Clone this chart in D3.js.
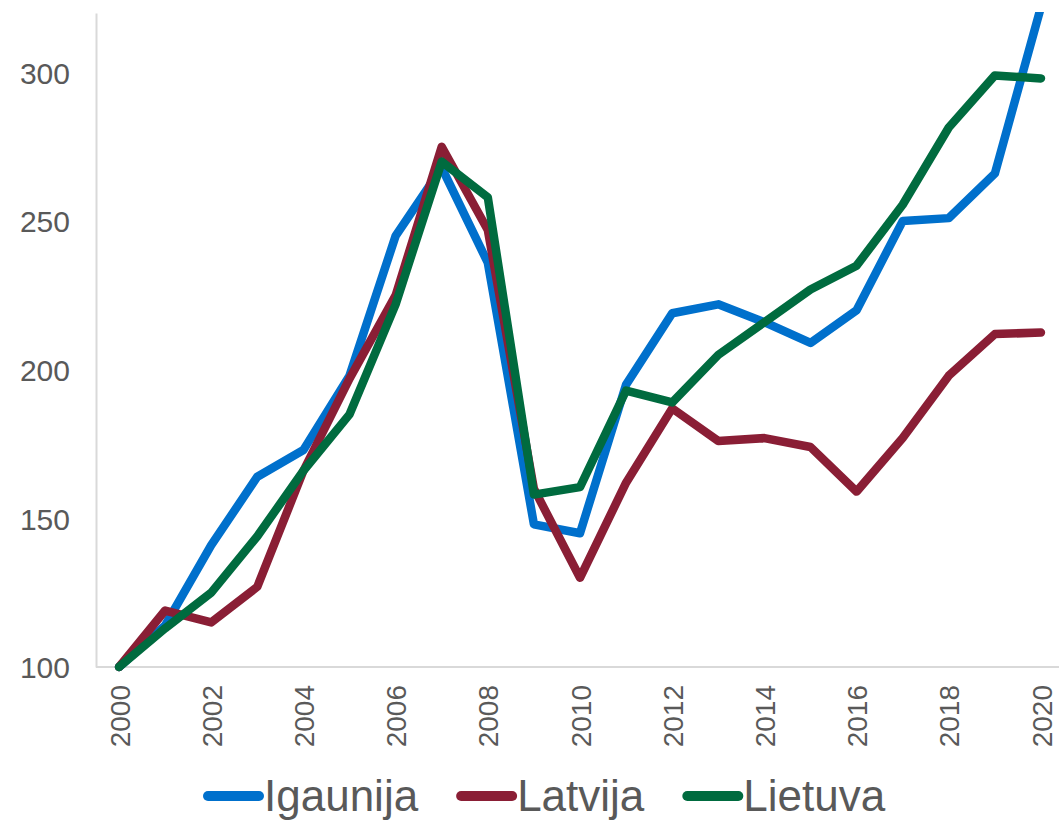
<!DOCTYPE html>
<html>
<head>
<meta charset="utf-8">
<script src="https://d3js.org/d3.v7.min.js"></script>
<style>
  body { margin: 0; background: #fff; }
  text { font-family: "Liberation Sans", Arial, sans-serif; fill: #595959; }
  .line { fill: none; stroke-width: 8.5px; stroke-linejoin: round; stroke-linecap: round; }
</style>
</head>
<body>
<script>
// data
var years = d3.range(2000, 2021);
var igaunija = [100, 114, 141, 164, 173, 198, 245, 268, 236, 148, 145, 195, 219, 222, 216, 209, 220, 250, 251, 266, 322];
var latvija  = [100, 119, 115, 127, 166, 197, 225, 275, 247, 160, 130, 162, 187, 176, 177, 174, 159, 177, 198, 212, 212.5];
var lietuva  = [100, 113, 125, 144, 166, 185, 222, 270, 258, 158, 160.5, 193, 189, 205, 216, 227, 235, 255.5, 281.5, 299, 298];
var seriesNames = ["Igaunija", "Latvija", "Lietuva"];
var seriesColors = ["#0070cc", "#8a1e35", "#006b3f"];
var yTicks = [100, 150, 200, 250, 300];
var xTicks = d3.range(2000, 2021, 2);

var width = 1059, height = 822;
var plotLeft = 96, plotTop = 13, plotBottom = 667, plotRight = 1064;

var svg = d3.select("body").append("svg")
  .attr("width", width)
  .attr("height", height);

var x = d3.scalePoint()
  .domain(years)
  .range([plotLeft, plotRight])
  .padding(0.5);

var y = d3.scaleLinear()
  .domain([100, 320])
  .range([plotBottom, plotTop]);

svg.append("defs").append("clipPath")
  .attr("id", "plot")
  .append("rect")
  .attr("x", plotLeft).attr("y", plotTop - 1)
  .attr("width", plotRight - plotLeft).attr("height", plotBottom - plotTop + 10);

// axes
var yAxis = svg.append("g")
  .attr("transform", "translate(" + plotLeft + ",0)")
  .call(d3.axisLeft(y).tickValues(yTicks).tickSize(0).tickPadding(26));
yAxis.select(".domain").attr("stroke", "#d9d9d9").attr("stroke-width", 2);
yAxis.selectAll("text")
  .style("font-size", "30px")
  .attr("dy", "0.36em")
  .attr("fill", "#595959");

var xAxis = svg.append("g")
  .attr("transform", "translate(0," + plotBottom + ")")
  .call(d3.axisBottom(x).tickValues(xTicks).tickSize(0));
xAxis.select(".domain").attr("stroke", "#d9d9d9").attr("stroke-width", 2)
  .attr("d", "M" + plotLeft + ",0H" + width);
xAxis.selectAll("text")
  .style("font-size", "28px")
  .attr("fill", "#595959")
  .attr("transform", "rotate(-90)")
  .attr("text-anchor", "end")
  .attr("x", -18)
  .attr("y", 0)
  .attr("dy", "0.36em");

// lines
var data = [igaunija, latvija, lietuva];
var line = d3.line()
  .x(function(d, i) { return x(years[i]); })
  .y(function(d) { return y(d); });

svg.append("g")
  .attr("clip-path", "url(#plot)")
  .selectAll("path")
  .data(data)
  .enter().append("path")
  .attr("class", "line")
  .attr("d", line)
  .style("stroke", function(d, i) { return seriesColors[i]; });

// legend
var legend = svg.append("g").attr("transform", "translate(205,796)");
var lx = 0;
seriesNames.forEach(function(name, i) {
  var g = legend.append("g").attr("transform", "translate(" + lx + ",0)");
  g.append("line")
    .attr("x1", 3).attr("x2", 54)
    .attr("y1", 0).attr("y2", 0)
    .attr("stroke", seriesColors[i])
    .attr("stroke-width", 10)
    .attr("stroke-linecap", "round");
  var t = g.append("text")
    .attr("x", 59)
    .attr("y", 15)
    .style("font-size", "44px")
    .attr("fill", "#404040")
    .text(name);
  lx += 59 + t.node().getComputedTextLength() + 40;
});
</script>
</body>
</html>
